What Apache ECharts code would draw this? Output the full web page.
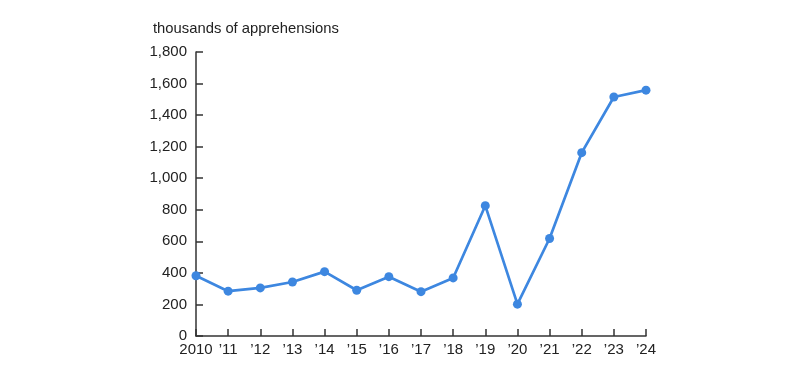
<!DOCTYPE html>
<html><head><meta charset="utf-8">
<script src="https://cdn.jsdelivr.net/npm/echarts@6/dist/echarts.min.js"></script>
<style>html,body{margin:0;padding:0;background:#fff}#c{width:800px;height:380px}</style>
</head><body><div id="c"></div>
<script>
const categories = ['2010','\u201911','\u201912','\u201913','\u201914','\u201915','\u201916','\u201917','\u201918','\u201919','\u201920','\u201921','\u201922','\u201923','\u201924'];
const apprehensions = [382, 284, 305, 342, 408, 290, 376, 281, 368, 826, 202, 618, 1162, 1515, 1558];
const yTitle = 'thousands of apprehensions';

const chart = echarts.init(document.getElementById('c'));
const txt = '#222222';
const font = "'Liberation Sans', Arial, sans-serif";
chart.setOption({
  animation: false,
  title: { text: yTitle, left: 148, top: 16, textStyle: { fontSize: 14.8, fontWeight: 'normal', color: txt, fontFamily: font } },
  grid: { left: 196, right: 154, top: 52, bottom: 44 },
  xAxis: {
    type: 'category', data: categories, boundaryGap: false,
    axisLine: { lineStyle: { color: '#333', width: 1.5 } },
    axisTick: { inside: true, length: 7, lineStyle: { color: '#333', width: 1.5 } },
    axisLabel: { color: txt, fontSize: 15, fontFamily: font, margin: 6, interval: 0 }
  },
  yAxis: {
    type: 'value', min: 0, max: 1800, interval: 200,
    splitLine: { show: false },
    axisLine: { show: true, lineStyle: { color: '#333', width: 1.5 } },
    axisTick: { show: true, inside: true, length: 7, lineStyle: { color: '#333', width: 1.5 } },
    axisLabel: { color: txt, fontSize: 15, fontFamily: font, margin: 9,
      formatter: v => v.toLocaleString('en-US') }
  },
  series: [{
    type: 'line', data: apprehensions,
    lineStyle: { color: '#3d87e0', width: 2.7 },
    itemStyle: { color: '#3d87e0' },
    symbol: 'circle', symbolSize: 9
  }]
});
</script></body></html>
